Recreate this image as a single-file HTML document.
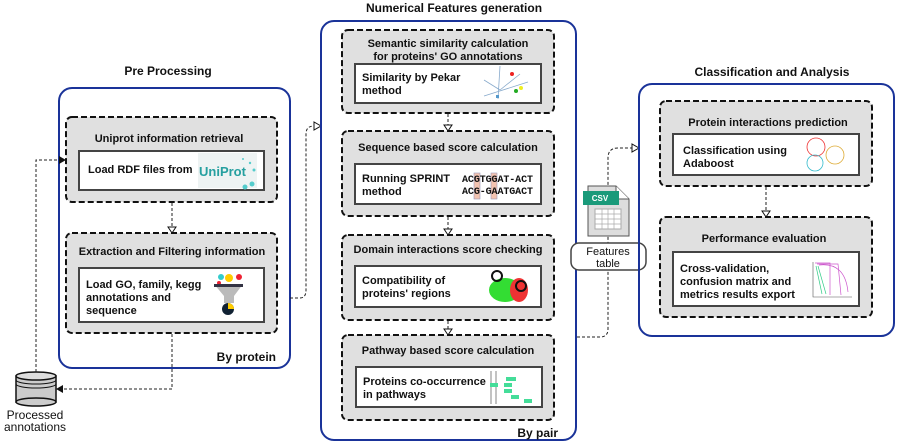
<!DOCTYPE html>
<html><head><meta charset="utf-8"><style>
body{margin:0;background:#fff;}
svg{display:block;font-family:"Liberation Sans",sans-serif;}
.t{font-weight:bold;font-size:11px;fill:#111;}
.h{font-weight:bold;font-size:12px;fill:#111;}
.c{fill:none;stroke:#1a3399;stroke-width:2;}
.d{fill:#e0e0e0;stroke:#111;stroke-width:2;stroke-dasharray:6,3;}
.w{fill:#fff;stroke:#444;stroke-width:2;}
.l{fill:none;stroke:#222;stroke-width:1;stroke-dasharray:3,2;}
</style></head><body>
<svg width="899" height="447" viewBox="0 0 899 447">
<!-- Left -->
<text class="h" x="168" y="75" text-anchor="middle">Pre Processing</text>
<rect class="c" x="59" y="88" width="231" height="280" rx="13"/>
<rect class="d" x="66" y="117" width="211" height="85" rx="6"/>
<text class="t" x="169" y="142" text-anchor="middle">Uniprot information retrieval</text>
<rect class="w" x="79" y="151" width="185" height="39"/>
<text class="t" x="88" y="173">Load RDF files from</text>
<rect x="198" y="153" width="59" height="35" fill="#eef3f3"/>
<text x="199" y="176" font-size="13" font-weight="bold" fill="#26a0a0">UniProt</text>
<circle cx="245" cy="187" r="2.5" fill="#5cc"/><circle cx="252" cy="184" r="2.5" fill="#5cc"/><circle cx="254" cy="170" r="1.5" fill="#5cc"/><circle cx="250" cy="163" r="1.2" fill="#5cc"/><circle cx="243" cy="159" r="1" fill="#5cc"/>
<rect class="d" x="66" y="233" width="211" height="100" rx="6"/>
<text class="t" x="172" y="255" text-anchor="middle">Extraction and Filtering information</text>
<rect class="w" x="79" y="268" width="185" height="54"/>
<text class="t" x="86" y="288">Load GO, family, kegg</text>
<text class="t" x="86" y="301">annotations and</text>
<text class="t" x="86" y="314">sequence</text>
<circle cx="221" cy="277" r="3" fill="#3cc"/><circle cx="229" cy="278" r="4" fill="#fc0"/><circle cx="239" cy="277" r="3" fill="#e23"/><circle cx="219" cy="283" r="2" fill="#e23"/>
<polygon points="214,284 243,284 234,296 234,303 224,303 224,296" fill="#bbb"/>
<rect x="214" y="284" width="29" height="3" fill="#334"/>
<circle cx="228" cy="309" r="6" fill="#123"/><path d="M228,309 L228,303 A6,6 0 0 1 234,309 Z" fill="#fc0"/>
<text class="h" x="276" y="361" text-anchor="end">By protein</text>
<!-- DB -->
<rect x="16" y="376" width="40" height="26" fill="#ccc" stroke="#111" stroke-width="1.5"/>
<ellipse cx="36" cy="402" rx="20" ry="4" fill="#ccc" stroke="#111" stroke-width="1.5"/>
<ellipse cx="36" cy="376" rx="20" ry="4" fill="#ddd" stroke="#111" stroke-width="1.5"/>
<path d="M16,380 A20,4 0 0 0 56,380 M16,384 A20,4 0 0 0 56,384" fill="none" stroke="#111"/>
<text x="35" y="419" font-size="12" text-anchor="middle" fill="#111">Processed</text>
<text x="35" y="431" font-size="12" text-anchor="middle" fill="#111">annotations</text>
<path class="l" d="M36,372 V160 H60"/><polygon points="66,160 59,156 59,164" fill="#111"/>
<path class="l" d="M172,334 V389 H62"/><polygon points="56,389 63,385 63,393" fill="#111"/>
<path class="l" d="M172,203 V227"/><polygon points="168,227 176,227 172,233" fill="#fff" stroke="#111"/>
<path class="l" d="M290,298 H300 Q306,298 306,290 V134 Q306,126 314,126"/><polygon points="321,126 314,122 314,130" fill="#fff" stroke="#111"/>
<!-- Middle -->
<text class="h" x="454" y="12" text-anchor="middle">Numerical Features generation</text>
<rect class="c" x="321" y="21" width="255" height="419" rx="13"/>
<rect class="d" x="342" y="30" width="212" height="83" rx="6"/>
<text class="t" x="448" y="47" text-anchor="middle">Semantic similarity calculation</text>
<text class="t" x="448" y="60" text-anchor="middle">for proteins' GO annotations</text>
<rect class="w" x="355" y="64" width="186" height="39"/>
<text class="t" x="362" y="81">Similarity by Pekar</text>
<text class="t" x="362" y="94">method</text>
<path d="M498,99 L500,66 M484,96 L528,82 M500,90 L520,74 M500,90 L484,80" stroke="#8ac" stroke-width="0.8"/>
<circle cx="512" cy="74" r="2" fill="#e22"/><circle cx="516" cy="91" r="2" fill="#2a2"/><circle cx="521" cy="88" r="2" fill="#ee2"/><rect x="496" y="95" width="3" height="3" fill="#59c"/>
<rect class="d" x="342" y="131" width="212" height="85" rx="6"/>
<text class="t" x="448" y="151" text-anchor="middle">Sequence based score calculation</text>
<rect class="w" x="355" y="164" width="186" height="40"/>
<text class="t" x="362" y="182">Running SPRINT</text>
<text class="t" x="362" y="195">method</text>
<rect x="474" y="173" width="6" height="26" fill="#f3c3b0" stroke="#99b" stroke-width="0.6"/>
<rect x="491" y="173" width="6" height="26" fill="#f3c3b0" stroke="#99b" stroke-width="0.6"/>
<text x="462" y="182" font-family="Liberation Mono,monospace" font-size="10" font-weight="bold" fill="#111" textLength="71">ACGTGGAT-ACT</text>
<text x="462" y="194" font-family="Liberation Mono,monospace" font-size="10" font-weight="bold" fill="#111" textLength="71">ACG-GAATGACT</text>
<rect class="d" x="342" y="235" width="212" height="85" rx="6"/>
<text class="t" x="448" y="253" text-anchor="middle">Domain interactions score checking</text>
<rect class="w" x="355" y="266" width="186" height="41"/>
<text class="t" x="362" y="284">Compatibility of</text>
<text class="t" x="362" y="297">proteins' regions</text>
<ellipse cx="505" cy="290" rx="16" ry="12" fill="#3d3"/><ellipse cx="519" cy="290" rx="9" ry="12" fill="#e33"/>
<circle cx="497" cy="276" r="5" fill="none" stroke="#111" stroke-width="2"/><circle cx="521" cy="286" r="5" fill="none" stroke="#111" stroke-width="2"/>
<rect class="d" x="342" y="335" width="212" height="85" rx="6"/>
<text class="t" x="448" y="354" text-anchor="middle">Pathway based score calculation</text>
<rect class="w" x="356" y="367" width="186" height="40"/>
<text class="t" x="363" y="385">Proteins co-occurrence</text>
<text class="t" x="363" y="398">in pathways</text>
<path d="M491,371 V404 M496,371 V404" stroke="#555" stroke-width="0.7"/>
<rect x="490" y="383" width="8" height="4" fill="#4d9"/><rect x="506" y="377" width="10" height="4" fill="#4d9"/><rect x="504" y="383" width="8" height="4" fill="#4d9"/><rect x="504" y="389" width="8" height="4" fill="#4d9"/><rect x="511" y="395" width="8" height="4" fill="#4d9"/><rect x="524" y="399" width="8" height="4" fill="#4d9"/>
<text class="h" x="558" y="437" text-anchor="end">By pair</text>
<path class="l" d="M448,114 V125"/><polygon points="444,125 452,125 448,131" fill="#fff" stroke="#111"/>
<path class="l" d="M448,217 V229"/><polygon points="444,229 452,229 448,235" fill="#fff" stroke="#111"/>
<path class="l" d="M448,321 V329"/><polygon points="444,329 452,329 448,335" fill="#fff" stroke="#111"/>
<!-- CSV -->
<path class="l" d="M577,337 H600 Q608,337 608,329 V158 Q608,148 618,148 H632" stroke="#666"/>
<polygon points="639,148 632,144 632,152" fill="#fff" stroke="#111"/>
<path d="M588,186 H616 L629,199 V236 H588 Z" fill="#ddd" stroke="#555"/>
<path d="M616,186 V199 H629" fill="#fff" stroke="#555"/>
<rect x="583" y="191" width="36" height="14" fill="#1a9a7a"/>
<text x="600" y="201" font-size="8" font-weight="bold" fill="#fff" text-anchor="middle">CSV</text>
<rect x="595" y="209" width="26" height="20" fill="#fff" stroke="#aaa"/>
<path d="M595,214 H621 M595,219 H621 M595,224 H621 M602,209 V229 M608,209 V229 M614,209 V229" stroke="#aaa" stroke-width="0.7"/>
<rect x="571" y="243" width="75" height="27" rx="8" fill="#fff" stroke="#444" stroke-width="1.5"/>
<text x="608" y="255" font-size="11" text-anchor="middle" fill="#111">Features</text>
<text x="608" y="267" font-size="11" text-anchor="middle" fill="#111">table</text>
<!-- Right -->
<text class="h" x="772" y="76" text-anchor="middle">Classification and Analysis</text>
<rect class="c" x="639" y="84" width="255" height="252" rx="13"/>
<rect class="d" x="660" y="101" width="212" height="85" rx="6"/>
<text class="t" x="768" y="126" text-anchor="middle">Protein interactions prediction</text>
<rect class="w" x="673" y="134" width="186" height="41"/>
<text class="t" x="683" y="154">Classification using</text>
<text class="t" x="683" y="167">Adaboost</text>
<circle cx="816" cy="147" r="9" fill="none" stroke="#e33" stroke-width="0.8"/><circle cx="835" cy="155" r="9" fill="none" stroke="#da3" stroke-width="0.8"/><circle cx="815" cy="163" r="8" fill="none" stroke="#3bc" stroke-width="0.8"/>
<rect class="d" x="660" y="217" width="212" height="100" rx="6"/>
<text class="t" x="764" y="242" text-anchor="middle">Performance evaluation</text>
<rect class="w" x="673" y="252" width="186" height="54"/>
<text class="t" x="680" y="272">Cross-validation,</text>
<text class="t" x="680" y="285">confusion matrix and</text>
<text class="t" x="680" y="298">metrics results export</text>
<path d="M813,262 V297 H852" stroke="#555" stroke-width="0.6" fill="none"/>
<path d="M815,263 H830 V295 M817,264 H838 L841,295 M819,265 Q845,262 848,292" stroke="#c5c" stroke-width="0.7" fill="none"/>
<path d="M816,266 L822,294 M818,266 L826,294" stroke="#3c8" stroke-width="0.7" fill="none"/>
<path class="l" d="M766,187 V211"/><polygon points="762,211 770,211 766,217" fill="#fff" stroke="#111"/>
</svg>
</body></html>
